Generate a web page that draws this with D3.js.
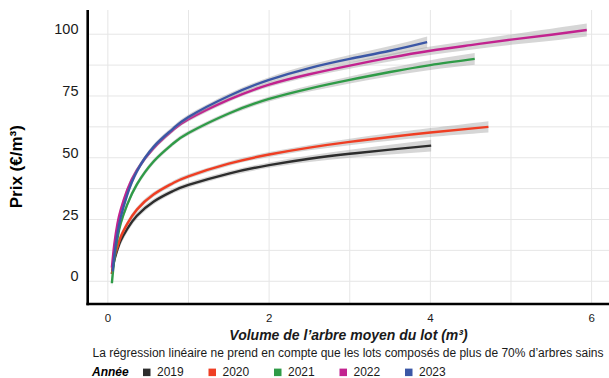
<!DOCTYPE html>
<html>
<head>
<meta charset="utf-8">
<script src="https://cdn.jsdelivr.net/npm/d3@7"></script>
<style>
  body { margin: 0; background: #fff; }
  svg { font-family: "Liberation Sans", Arial, Helvetica, sans-serif; display: block; }
</style>
</head>
<body>
<div id="chart"></div>
<script>
(function(){

  let width = 609;
  let height = 378;

  // series: volume (m3) -> prix (EUR/m3), and half width of the grey band
  let years = ['2019', '2020', '2021', '2022', '2023'];
  let colors = ['#2d2d2d', '#ef3e23', '#2f9b47', '#c2238f', '#3b57a6'];

  let x2019 = [0.05, 0.08, 0.12, 0.16, 0.24, 0.36, 0.57, 0.8, 1, 1.5, 2, 2.5, 3, 3.5, 4.01];
  let y2019 = [3, 8.5, 13, 16.5, 21.2, 26.5, 32.3, 36.4, 39, 43.6, 47, 49.6, 51.6, 53.3, 54.9];
  let se2019 = [2.6, 2.2, 1.9, 1.7, 1.5, 1.3, 1.1, 1, 1, 1, 1.1, 1.3, 1.6, 2, 2.4];

  let x2020 = [0.05, 0.08, 0.12, 0.16, 0.24, 0.36, 0.57, 0.8, 1, 1.5, 2, 2.5, 3, 3.5, 4, 4.72];
  let y2020 = [3, 9.5, 14, 18, 23.2, 29, 35.2, 39.6, 42.5, 47.6, 51.3, 54.1, 56.4, 58.4, 60.2, 62.5];
  let se2020 = [2.2, 1.9, 1.6, 1.4, 1.2, 1.1, 1, 0.9, 0.9, 0.9, 1, 1.1, 1.3, 1.5, 1.8, 2.3];

  let x2021 = [0.05, 0.08, 0.12, 0.16, 0.24, 0.36, 0.57, 0.8, 1, 1.5, 2, 2.5, 3, 3.5, 4, 4.55];
  let y2021 = [-0.8, 9, 17.5, 23.5, 31, 39.2, 48.6, 55.5, 60, 67.9, 73.8, 78, 81.5, 84.7, 87.5, 90];
  let se2021 = [2, 1.8, 1.5, 1.3, 1.2, 1.1, 1, 0.9, 0.9, 0.9, 1, 1.2, 1.4, 1.7, 2, 2.4];

  let x2022 = [0.05, 0.08, 0.12, 0.16, 0.24, 0.36, 0.57, 0.8, 1, 1.5, 2, 2.5, 3, 3.5, 4, 4.5, 5, 5.5, 5.94];
  let y2022 = [5.5, 15, 23.5, 29, 37, 45, 54, 61, 65.6, 73.5, 79.6, 83.8, 87.3, 90.5, 93.3, 95.6, 97.8, 99.8, 101.7];
  let se2022 = [2, 1.8, 1.5, 1.3, 1.2, 1.1, 1, 0.9, 0.9, 0.9, 1, 1.1, 1.3, 1.5, 1.7, 1.9, 2.1, 2.4, 2.6];

  let x2023 = [0.06, 0.08, 0.12, 0.16, 0.24, 0.36, 0.57, 0.8, 1, 1.5, 2, 2.5, 3, 3.5, 3.96];
  let y2023 = [4, 10.5, 19.5, 26, 35, 44.5, 54.5, 61.5, 66.5, 75, 81.5, 86.3, 90, 93.3, 96.8];
  let se2023 = [2.2, 2, 1.7, 1.5, 1.3, 1.2, 1.1, 1, 1, 1, 1.1, 1.3, 1.6, 1.9, 2.3];

  let xTicks = [0, 2, 4, 6];
  let yTicks = [0, 25, 50, 75, 100];
  let xGrid = [0, 1, 2, 3, 4, 5, 6];
  let yGrid = [0, 12.5, 25, 37.5, 50, 62.5, 75, 87.5, 100];

  let series = [
    { year: '2019', x: x2019, y: y2019, se: se2019 },
    { year: '2020', x: x2020, y: y2020, se: se2020 },
    { year: '2021', x: x2021, y: y2021, se: se2021 },
    { year: '2022', x: x2022, y: y2022, se: se2022 },
    { year: '2023', x: x2023, y: y2023, se: se2023 },
  ];

  let panel = { left: 87.7, right: 615, top: 10, bottom: 304 };

  let x = d3.scaleLinear().domain([-0.25, 6.29]).range([panel.left, panel.right]);
  let y = d3.scaleLinear().domain([-9.2, 109.8]).range([panel.bottom, panel.top]);
  let color = d3.scaleOrdinal().domain(years).range(colors);

  let svg = d3.select('#chart')
    .append('svg')
    .attr('width', width)
    .attr('height', height);

  //grid
  svg.append('g').selectAll('line.gx')
    .data(xGrid)
    .enter().append('line')
    .attr('x1', (d) => x(d)).attr('x2', (d) => x(d))
    .attr('y1', panel.top).attr('y2', panel.bottom)
    .attr('stroke', '#e6e6e6').attr('stroke-width', 1);

  svg.append('g').selectAll('line.gy')
    .data(yGrid)
    .enter().append('line')
    .attr('x1', panel.left).attr('x2', width)
    .attr('y1', (d) => y(d)).attr('y2', (d) => y(d))
    .attr('stroke', '#e6e6e6').attr('stroke-width', 1);

  // ribbons + lines, one group per year
  let band = d3.area()
    .x((d) => x(d.x))
    .y0((d) => y(d.y - d.se))
    .y1((d) => y(d.y + d.se))
    .curve(d3.curveNatural);

  let line = d3.line()
    .x((d) => x(d.x))
    .y((d) => y(d.y))
    .curve(d3.curveNatural);

  let groups = svg.append('g').selectAll('g.smooth')
    .data(series)
    .enter().append('g')
    .attr('class', 'smooth');

  groups.each(function(s){
    let pts = s.x.map((v, i) => ({ x: v, y: s.y[i], se: s.se[i] }));
    let g = d3.select(this);
    g.append('path')
      .attr('d', band(pts))
      .attr('fill', '#999999')
      .attr('fill-opacity', 0.4);
    g.append('path')
      .attr('d', line(pts))
      .attr('fill', 'none')
      .attr('stroke', color(s.year))
      .attr('stroke-width', 2.4);
  });

  //axis lines
  svg.append('line')
    .attr('x1', panel.left).attr('x2', panel.left)
    .attr('y1', panel.top).attr('y2', panel.bottom + 1.3)
    .attr('stroke', '#000').attr('stroke-width', 2.6);
  svg.append('line')
    .attr('x1', panel.left - 1.3).attr('x2', width)
    .attr('y1', panel.bottom).attr('y2', panel.bottom)
    .attr('stroke', '#000').attr('stroke-width', 2.6);

  //tick labels
  svg.append('g').selectAll('text')
    .data(yTicks)
    .enter().append('text')
    .attr('x', 78.5)
    .attr('y', (d) => y(d))
    .attr('text-anchor', 'end')
    .attr('font-size', 14.5)
    .attr('fill', '#1a1a1a')
    .text((d) => d);

  svg.append('g').selectAll('text')
    .data(xTicks)
    .enter().append('text')
    .attr('x', (d) => x(d))
    .attr('y', 321.7)
    .attr('text-anchor', 'middle')
    .attr('font-size', 11.5)
    .attr('fill', '#1a1a1a')
    .text((d) => d);

  //titles
  svg.append('text')
    .attr('transform', 'translate(21.7,166.7) rotate(-90)')
    .attr('text-anchor', 'middle')
    .attr('font-size', 17)
    .attr('font-weight', 'bold')
    .text('Prix (€/m³)');

  svg.append('text')
    .attr('x', 348.5)
    .attr('y', 339.8)
    .attr('text-anchor', 'middle')
    .attr('font-size', 14)
    .attr('font-weight', 'bold')
    .attr('font-style', 'italic')
    .attr('fill', '#1a1a1a')
    .text('Volume de l’arbre moyen du lot (m³)');

  svg.append('text')
    .attr('x', 348)
    .attr('y', 356.6)
    .attr('text-anchor', 'middle')
    .attr('font-size', 12)
    .attr('fill', '#1a1a1a')
    .text('La régression linéaire ne prend en compte que les lots composés de plus de 70% d’arbres sains');

  //legend
  let legend = svg.append('g');
  legend.append('text')
    .attr('x', 92)
    .attr('y', 375.8)
    .attr('font-size', 12)
    .attr('font-weight', 'bold')
    .attr('font-style', 'italic')
    .text('Année');

  let keys = legend.selectAll('g.key')
    .data(years)
    .enter().append('g')
    .attr('class', 'key')
    .attr('transform', (d, i) => `translate(${143 + i * 65.5}, 0)`);

  keys.append('rect')
    .attr('x', 0).attr('y', 368.6)
    .attr('width', 7.5).attr('height', 7.5)
    .attr('fill', (d) => color(d));

  keys.append('text')
    .attr('x', 14)
    .attr('y', 375.8)
    .attr('font-size', 12)
    .attr('fill', '#1a1a1a')
    .text((d) => d);

})();
</script>
</body>
</html>
